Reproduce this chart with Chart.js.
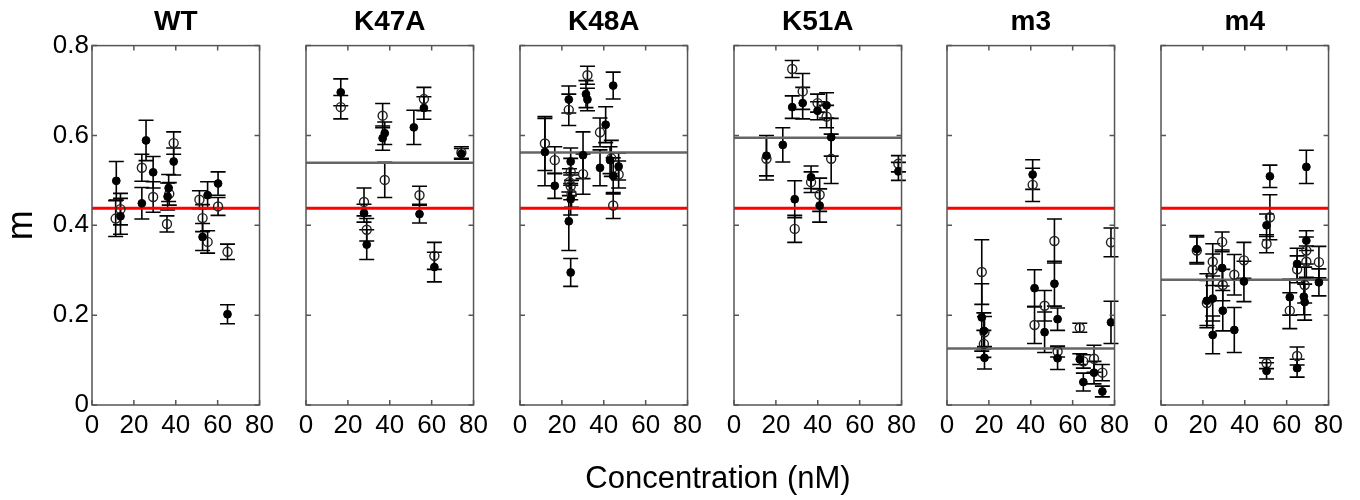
<!DOCTYPE html>
<html>
<head>
<meta charset="utf-8">
<script src="https://cdn.jsdelivr.net/npm/chart.js@4/dist/chart.umd.min.js"></script>
<style>
  body { margin: 0; background: #fff; }
  #wrap { position: relative; width: 1360px; height: 500px; overflow: hidden; }
  .panel { position: absolute; top: 0; width: 279px; height: 500px; }
  #xtitle { position: absolute; left: 518px; width: 400px; top: 460px; text-align: center;
    font: 31px "Liberation Sans", Arial, sans-serif; color: #000; }
</style>
</head>
<body>
<div id="wrap">
  <div class="panel" style="left:0px"><canvas id="c0"></canvas></div>
  <div class="panel" style="left:214px"><canvas id="c1"></canvas></div>
  <div class="panel" style="left:428px"><canvas id="c2"></canvas></div>
  <div class="panel" style="left:642px"><canvas id="c3"></canvas></div>
  <div class="panel" style="left:855px"><canvas id="c4"></canvas></div>
  <div class="panel" style="left:1069px"><canvas id="c5"></canvas></div>
  <div id="xtitle">Concentration (nM)</div>
</div>
<script>
// [concentration, m, error]
var panelNames = ["WT", "K47A", "K48A", "K51A", "m3", "m4"];
var refLine = 0.438;
var meanLines = [null, 0.539, 0.562, 0.595, 0.126, 0.279];
var xTicks = [0, 20, 40, 60, 80];
var yTicks = [0, 0.2, 0.4, 0.6, 0.8];

var wtFilled = [[11.6,0.499,0.043],[13.6,0.420,0.040],[23.8,0.449,0.035],[25.8,0.589,0.045],[29.2,0.518,0.035],[36.6,0.483,0.030],[36.1,0.464,0.030],[39.0,0.542,0.030],[52.8,0.374,0.030],[55.2,0.467,0.030],[60.2,0.493,0.026],[64.7,0.202,0.021]];
var wtOpen = [[11.3,0.415,0.040],[13.6,0.436,0.035],[23.8,0.528,0.030],[29.2,0.463,0.034],[36.9,0.470,0.025],[35.8,0.403,0.018],[39.0,0.583,0.025],[51.3,0.457,0.020],[52.8,0.416,0.030],[55.2,0.363,0.025],[60.2,0.442,0.020],[64.7,0.341,0.017]];

var k47Filled = [[16.6,0.696,0.030],[37.6,0.605,0.025],[36.6,0.594,0.027],[51.5,0.618,0.038],[56.3,0.661,0.025],[74.2,0.559,0.012],[27.7,0.427,0.020],[29.0,0.357,0.033],[54.2,0.425,0.020],[61.3,0.307,0.033]];
var k47Open = [[16.6,0.663,0.026],[36.6,0.644,0.027],[56.3,0.681,0.026],[74.2,0.562,0.013],[37.6,0.501,0.039],[27.7,0.452,0.031],[29.0,0.390,0.025],[54.2,0.467,0.020],[61.3,0.332,0.030]];

var k48Filled = [[11.9,0.563,0.075],[16.6,0.488,0.028],[23.3,0.680,0.030],[24.2,0.542,0.030],[24.2,0.458,0.035],[23.3,0.409,0.065],[24.2,0.295,0.031],[30.1,0.556,0.052],[31.5,0.692,0.030],[32.2,0.680,0.025],[44.5,0.711,0.030],[40.9,0.624,0.040],[38.2,0.528,0.040],[44.5,0.510,0.040],[47.1,0.531,0.030],[43.0,0.545,0.030]];
var k48Open = [[11.9,0.582,0.060],[16.6,0.545,0.030],[23.3,0.657,0.035],[24.2,0.519,0.030],[23.6,0.496,0.030],[24.2,0.487,0.030],[24.6,0.470,0.030],[30.1,0.514,0.045],[32.2,0.734,0.020],[38.2,0.607,0.032],[43.6,0.549,0.040],[47.1,0.513,0.030],[44.5,0.444,0.029]];

var k51Filled = [[27.8,0.663,0.025],[32.8,0.672,0.035],[39.9,0.655,0.020],[44.2,0.667,0.028],[46.4,0.596,0.042],[15.5,0.555,0.045],[23.3,0.579,0.038],[36.8,0.507,0.025],[40.9,0.444,0.037],[29.0,0.458,0.041],[78.5,0.520,0.020]];
var k51Open = [[27.8,0.748,0.019],[32.8,0.698,0.040],[39.9,0.672,0.020],[44.2,0.642,0.025],[46.4,0.548,0.055],[15.5,0.548,0.047],[36.8,0.496,0.023],[40.9,0.468,0.037],[29.0,0.392,0.030],[78.5,0.537,0.018]];

var m3Filled = [[40.9,0.513,0.033],[16.6,0.195,0.075],[17.6,0.165,0.040],[17.9,0.105,0.025],[41.8,0.260,0.041],[46.6,0.162,0.045],[51.3,0.270,0.050],[52.8,0.191,0.025],[52.8,0.104,0.025],[63.4,0.102,0.012],[65.1,0.051,0.020],[70.2,0.072,0.025],[74.2,0.030,0.012],[78.3,0.184,0.047]];
var m3Open = [[40.9,0.490,0.037],[16.6,0.296,0.072],[17.9,0.162,0.035],[17.6,0.136,0.030],[41.8,0.178,0.041],[46.6,0.221,0.034],[51.3,0.365,0.049],[52.8,0.119,0.012],[63.4,0.172,0.010],[65.1,0.097,0.015],[70.2,0.103,0.030],[74.2,0.072,0.018],[78.3,0.362,0.032]];

var m4Filled = [[17.1,0.347,0.030],[21.9,0.232,0.060],[24.7,0.237,0.050],[24.7,0.156,0.042],[29.2,0.305,0.040],[29.5,0.210,0.045],[35.0,0.167,0.050],[39.6,0.275,0.045],[52.0,0.509,0.025],[50.4,0.400,0.025],[50.4,0.076,0.018],[69.4,0.530,0.037],[61.5,0.240,0.040],[65.0,0.314,0.035],[65.0,0.082,0.020],[69.4,0.366,0.022],[68.2,0.241,0.040],[68.6,0.229,0.040],[75.4,0.273,0.030]];
var m4Open = [[17.1,0.344,0.030],[21.9,0.227,0.050],[24.7,0.319,0.040],[24.7,0.301,0.035],[29.2,0.363,0.022],[29.5,0.267,0.035],[35.0,0.290,0.045],[39.6,0.322,0.040],[52.0,0.418,0.050],[50.4,0.359,0.020],[50.4,0.093,0.012],[61.5,0.210,0.040],[65.0,0.302,0.030],[65.0,0.109,0.020],[69.4,0.344,0.030],[69.4,0.319,0.035],[68.6,0.267,0.040],[75.4,0.318,0.035]];

var filledSets = [wtFilled, k47Filled, k48Filled, k51Filled, m3Filled, m4Filled];
var openSets = [wtOpen, k47Open, k48Open, k51Open, m3Open, m4Open];

Chart.defaults.font.family = '"Liberation Sans", Arial, Helvetica, sans-serif';
Chart.defaults.color = '#000';

// error bars drawn under the markers
var errorBars = {
  id: 'errorBars',
  beforeDatasetsDraw: function(chart) {
    var ctx = chart.ctx, x = chart.scales.x, y = chart.scales.y;
    ctx.save();
    ctx.strokeStyle = '#000';
    ctx.lineWidth = 1.6;
    chart.data.datasets.forEach(function(ds) {
      if (!ds.errs) return;
      ds.data.forEach(function(p, i) {
        var px = x.getPixelForValue(p.x);
        var top = y.getPixelForValue(p.y + ds.errs[i]);
        var bot = y.getPixelForValue(p.y - ds.errs[i]);
        ctx.beginPath();
        ctx.moveTo(px, top); ctx.lineTo(px, bot);
        ctx.moveTo(px - 7.5, top); ctx.lineTo(px + 7.5, top);
        ctx.moveTo(px - 7.5, bot); ctx.lineTo(px + 7.5, bot);
        ctx.stroke();
      });
    });
    ctx.restore();
  }
};

// box round the plot with inward ticks on all sides
var frame = {
  id: 'frame',
  afterDraw: function(chart) {
    var ctx = chart.ctx, a = chart.chartArea, x = chart.scales.x, y = chart.scales.y;
    ctx.save();
    ctx.strokeStyle = '#555';
    ctx.lineWidth = 1.5;
    ctx.strokeRect(a.left, a.top, a.right - a.left, a.bottom - a.top);
    ctx.beginPath();
    xTicks.forEach(function(v) {
      var px = x.getPixelForValue(v);
      ctx.moveTo(px, a.bottom); ctx.lineTo(px, a.bottom - 5);
      ctx.moveTo(px, a.top); ctx.lineTo(px, a.top + 5);
    });
    yTicks.forEach(function(v) {
      var py = y.getPixelForValue(v);
      ctx.moveTo(a.left, py); ctx.lineTo(a.left + 5, py);
      ctx.moveTo(a.right, py); ctx.lineTo(a.right - 5, py);
    });
    ctx.stroke();
    ctx.restore();
  }
};

function toPts(arr) { return arr.map(function(p) { return {x: p[0], y: p[1]}; }); }

panelNames.forEach(function(name, i) {
  var datasets = [
    { data: toPts(filledSets[i]), errs: filledSets[i].map(function(p) { return p[2]; }),
      pointStyle: 'circle', pointRadius: 3.9, backgroundColor: '#000', borderColor: '#000', borderWidth: 1 },
    { data: toPts(openSets[i]), errs: openSets[i].map(function(p) { return p[2]; }),
      pointStyle: 'circle', pointRadius: 4.5, backgroundColor: 'rgba(0,0,0,0)', borderColor: '#222', borderWidth: 1.4 },
    { type: 'line', data: [{x: xTicks[0], y: refLine}, {x: xTicks[4], y: refLine}],
      borderColor: '#ff0000', borderWidth: 3, pointRadius: 0 }
  ];
  if (meanLines[i] !== null) {
    datasets.push({ type: 'line', data: [{x: xTicks[0], y: meanLines[i]}, {x: xTicks[4], y: meanLines[i]}],
      borderColor: '#666', borderWidth: 2.5, pointRadius: 0 });
  }
  new Chart(document.getElementById('c' + i), {
    type: 'scatter',
    data: { datasets: datasets },
    options: {
      responsive: true,
      maintainAspectRatio: false,
      animation: false,
      layout: { padding: { left: 0, right: 18, top: 0, bottom: 0 } },
      plugins: {
        legend: { display: false },
        tooltip: { enabled: false },
        title: { display: true, text: name, fullSize: false,
          font: { size: 28, weight: 'bold' }, padding: { top: 5, bottom: 7 } }
      },
      scales: {
        x: {
          type: 'linear', min: 0, max: 80,
          grid: { display: false, drawTicks: false },
          border: { display: false },
          ticks: { stepSize: 20, autoSkip: false, maxRotation: 0, padding: 5, font: { size: 26 } },
          afterFit: function(s) { s.height = 95; }
        },
        y: {
          min: 0, max: 0.8,
          grid: { display: false, drawTicks: false },
          border: { display: false },
          ticks: { stepSize: 0.2, display: i === 0, padding: 3, font: { size: 26 } },
          title: { display: i === 0, text: 'm', font: { size: 36 }, padding: 0 },
          afterFit: function(s) { s.width = 92; }
        }
      }
    },
    plugins: [errorBars, frame]
  });
});
</script>
</body>
</html>
